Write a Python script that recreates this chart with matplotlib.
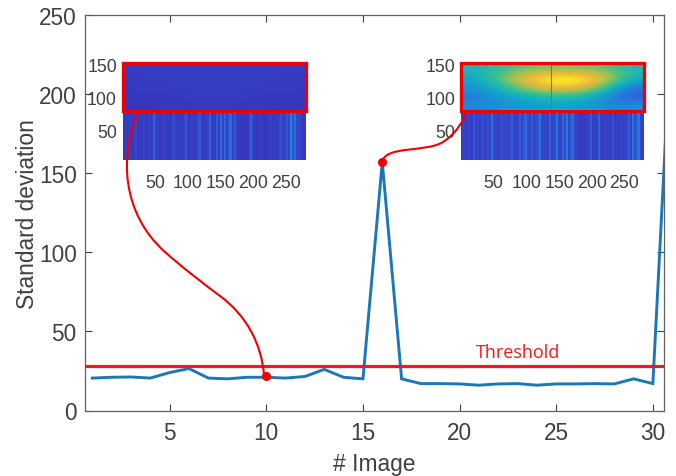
# -*- coding: utf-8 -*-
import matplotlib
matplotlib.use("Agg")
import matplotlib.pyplot as plt
from matplotlib.colors import LinearSegmentedColormap
from matplotlib.patches import PathPatch, Rectangle
from matplotlib.path import Path

# -----------------------------
# Data
# -----------------------------
image_no = [1, 2, 3, 4, 5, 6, 7, 8, 9, 10, 11, 12, 13, 14, 15, 16,
            17, 18, 19, 20, 21, 22, 23, 24, 25, 26, 27, 28, 29, 30, 31]
std_dev = [20.5, 21, 21.2, 20.5, 24, 26.5, 20.5, 20, 21, 21, 20.5, 21.5, 26, 21, 20, 157,
           20, 17, 17, 16.8, 16, 16.8, 17, 16, 16.8, 16.8, 17, 16.8, 20, 17, 253]
threshold = 28
x_ticks = [5, 10, 15, 20, 25, 30]
y_ticks = [0, 50, 100, 150, 200, 250]
inset_x_ticks = [50, 100, 150, 200, 250]
inset_y_ticks = [50, 100, 150]

# Column brightness of the lower half of each inset
left_cols = [.04, .05, .04, .06, .04, .05, .08, .04, .05, .04, .07, .04, .05, .06, .04, .16,
             .06, .05, .04, .05, .07, .04, .05, .04, .06, .10, .05, .04, .05, .04, .07, .12,
             .05, .04, .06, .04, .05, .08, .14, .05, .04, .05, .06, .16, .05, .04, .13, .05,
             .18, .06, .16, .05, .14, .18, .06, .12, .05, .04, .04, .03, .04, .03, .05, .16,
             .06, .04, .03, .04, .05, .04, .03, .04, .05, .07, .04, .05, .04, .06, .10, .05,
             .07, .12, .06, .28, .10, .20, .07, .08, .05, .04, .04]
right_cols = [.05, .07, .05, .08, .06, .05, .12, .06, .07, .05, .10, .06, .07, .09, .06, .20,
              .08, .07, .06, .07, .10, .06, .09, .06, .08, .14, .07, .06, .08, .14, .07, .12,
              .18, .08, .07, .14, .07, .08, .12, .20, .08, .07, .09, .07, .16, .06, .08, .22,
              .07, .06, .18, .08, .24, .07, .14, .20, .07, .06, .05, .04, .05, .04, .06, .07,
              .14, .05, .06, .05, .16, .06, .05, .07, .05, .06, .05, .12, .05, .06, .05, .07,
              .05, .06, .08, .14, .06, .22, .08, .16, .24, .07, .05]

# Upper halves (top row first)
left_top = [[.05, .05, .05, .05, .05, .05],
            [.04, .05, .05, .05, .05, .04],
            [.04, .04, .05, .05, .04, .04],
            [.03, .03, .04, .04, .03, .03]]
right_top = [[.48, .50, .56, .62, .64, .64, .62, .56, .48],
             [.40, .54, .78, .92, 1.0, 1.0, .95, .74, .48],
             [.32, .42, .62, .80, .92, .92, .78, .46, .20],
             [.22, .27, .36, .44, .48, .48, .38, .20, .12],
             [.28, .30, .32, .34, .36, .36, .32, .28, .32]]

parula = LinearSegmentedColormap.from_list(
    "parula", ["#3a2cb8", "#2f5fdc", "#1c8cd8", "#12b0c0", "#3bc08f", "#a0c050", "#f0ba3a", "#f9fb15"])

W, H = 676, 477
plt.rcParams['font.family'] = ['Liberation Sans', 'DejaVu Sans']
GREY = "#404040"


def box(left, top, right, bottom):
    # pixel box of the picture -> figure fractions
    return [left / W, 1 - bottom / H, (right - left) / W, (bottom - top) / H]


fig = plt.figure(figsize=(W / 100, H / 100), dpi=100)

# -----------------------------
# Main axes
# -----------------------------
ax = fig.add_axes(box(85, 16, 663.5, 411.5))
ax.plot(image_no, std_dev, color="#1a78b8", lw=2.1, solid_joinstyle="miter", zorder=2)
ax.axhline(threshold, color="#f01a1a", lw=2.3, zorder=3)
ax.text(20.85, 31, "Threshold", color="#f01a1a", fontsize=13, family="Open Sans", va="bottom")
ax.plot([10], [21.5], "o", color="#f00000", ms=5.5, zorder=4)
ax.plot([16], [157], "o", color="#f00000", ms=5.5, zorder=4)
ax.set_xlim(0.62, 30.55)
ax.set_ylim(0, 250)
ax.set_xticks(x_ticks)
ax.set_yticks(y_ticks)
ax.tick_params(direction="in", length=5, width=0.8, color=GREY, labelcolor=GREY,
               labelsize=16.3, top=True, right=True)
ax.tick_params(axis="x", pad=7.5)
ax.tick_params(axis="y", pad=6)
for s in ax.spines.values():
    s.set_color("#606060")
    s.set_linewidth(0.9)
ax.set_xlabel("# Image", fontsize=16.4, color=GREY, labelpad=6)
ax.set_ylabel("Standard deviation", fontsize=16.4, color=GREY, labelpad=0)
ax.yaxis.set_label_coords(-0.079, 0.5)


# -----------------------------
# Insets
# -----------------------------
def inset(px_box, cols, top):
    a = fig.add_axes(box(*px_box))
    a.imshow([cols], cmap=parula, vmin=0, vmax=1, aspect="auto", interpolation="nearest",
             extent=[0, 280, 5, 80])
    a.imshow(top, cmap=parula, vmin=0, vmax=1, aspect="auto", interpolation="bicubic",
             extent=[0, 280, 80, 152])
    a.set_xlim(0, 280)
    a.set_ylim(5, 152)
    a.set_xticks(inset_x_ticks)
    a.set_yticks(inset_y_ticks)
    a.tick_params(length=0, labelsize=12.8, labelcolor=GREY, pad=4)
    a.tick_params(axis="x", pad=10)
    for s in a.spines.values():
        s.set_visible(False)
    a.add_patch(Rectangle((0, 80), 280, 72, fill=False, ec="#f00000", lw=2.4,
                          clip_on=False, zorder=5))
    return a


a1 = inset((122.5, 64, 305.5, 161), left_cols, left_top)
a2 = inset((461, 64, 644, 161), right_cols, right_top)
a2.axvline(137, ymin=0.49, color="#707080", lw=0.8)
a2.plot([60, 220], [80.5, 80.5], color="#f0e040", lw=1)
a1.plot([140, 185], [79, 79], color="#e0c050", lw=1)

# -----------------------------
# Red connector curves, in picture pixels
# -----------------------------
overlay = fig.add_axes([0, 0, 1, 1], facecolor="none")
overlay.set_xlim(0, W)
overlay.set_ylim(H, 0)
overlay.axis("off")
curve1 = Path([(140, 110), (118, 155), (122, 215), (165, 253), (183, 269), (200, 282), (220, 297),
               (246, 316), (262, 345), (264, 377)],
              [Path.MOVETO] + [Path.CURVE4] * 9)
curve2 = Path([(382, 163), (386, 146), (425, 154), (443, 143), (456, 135), (463, 122), (468, 111)],
              [Path.MOVETO] + [Path.CURVE4] * 6)
overlay.add_patch(PathPatch(curve1, fill=False, ec="#f00000", lw=1.5))
overlay.add_patch(PathPatch(curve2, fill=False, ec="#f00000", lw=1.5))

fig.savefig("out.png", dpi=100)
